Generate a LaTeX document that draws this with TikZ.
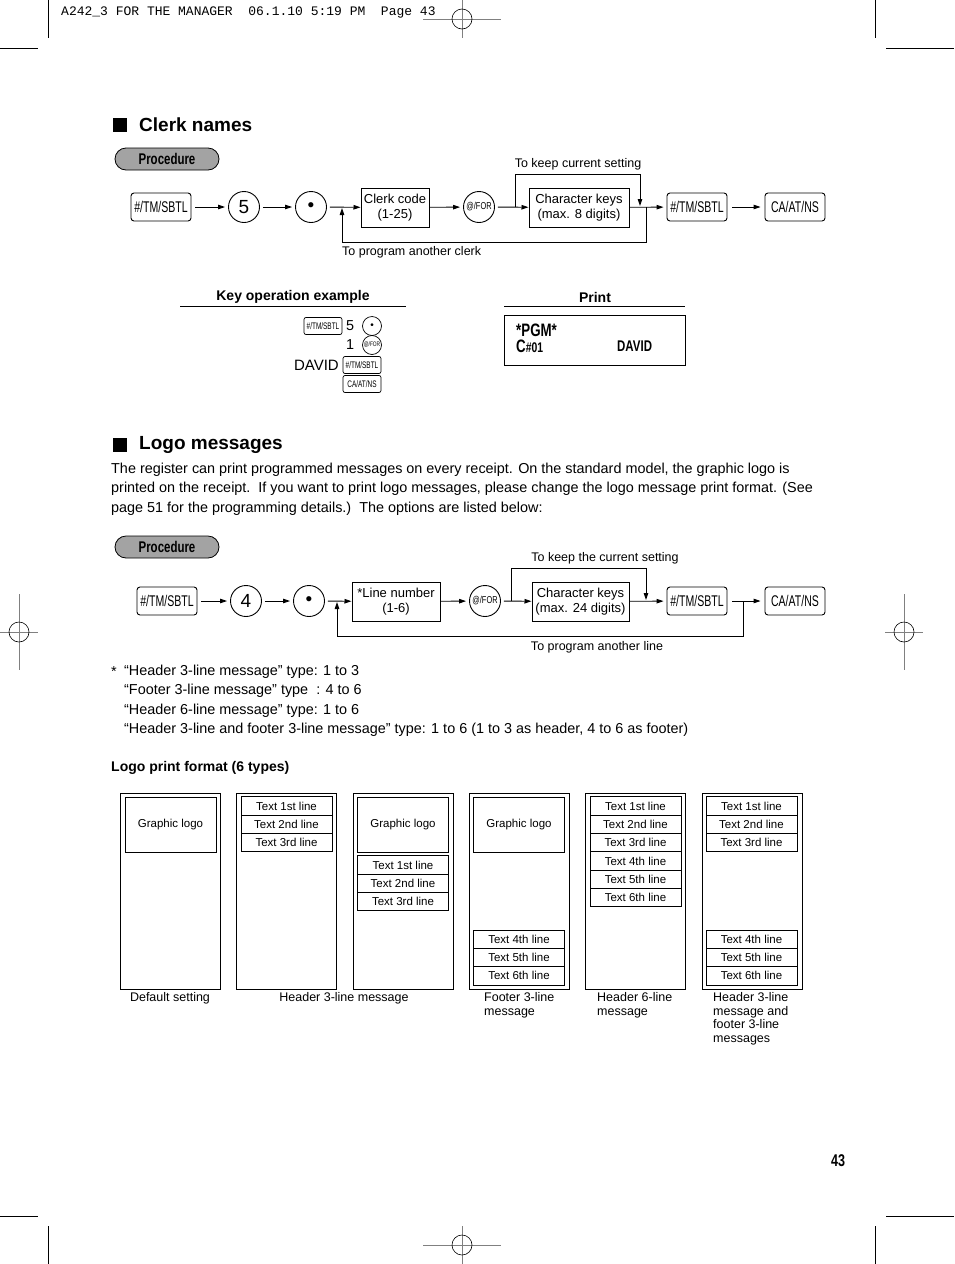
\documentclass[tikz,border=0pt]{standalone}
\usepackage{fontspec}
\setmainfont{Liberation Sans}
\setmonofont{Liberation Mono}
\newfontfamily\keyfont[FakeStretch=0.74]{Liberation Sans}
\newfontfamily\keynarrow[FakeStretch=0.68]{Liberation Sans}
\usetikzlibrary{positioning,arrows.meta}
\tikzset{
  keybox/.style={draw,rounded corners=3pt,line width=0.9pt,minimum width=60pt,minimum height=28pt,inner sep=0pt,font=\keynarrow\fontsize{15.5}{16}\selectfont},
  keysmall/.style={draw,rounded corners=2pt,line width=0.7pt,minimum width=38pt,minimum height=17pt,inner sep=0pt,font=\keynarrow\fontsize{9.5}{9.5}\selectfont},
  keyround/.style={draw,circle,line width=0.9pt,minimum size=31pt,inner sep=0pt,font=\fontsize{19}{19}\selectfont},
  roundsmall/.style={draw,circle,line width=0.7pt,minimum size=19pt,inner sep=0pt,font=\keyfont\fontsize{6.5}{6.5}\selectfont},
  codebox/.style={draw,line width=1pt,minimum height=39pt,inner sep=2pt,align=center,font=\fontsize{13}{15.5}\selectfont},
  note/.style={inner sep=0pt,font=\fontsize{12.5}{14}\selectfont},
  flow/.style={-{Triangle[length=7pt,width=4.5pt]},line width=0.9pt},
  link/.style={line width=0.9pt},
  proc/.style={draw,fill=gray!72,line width=0.8pt,rounded corners=11pt,minimum width=104pt,minimum height=22pt,inner sep=0pt,font=\keyfont\bfseries\fontsize{15.5}{15.5}\selectfont},
  heading/.style={anchor=west,inner sep=0pt,font=\bfseries\fontsize{19}{20}\selectfont},
  subhead/.style={inner sep=0pt,font=\bfseries\fontsize{14}{16}\selectfont},
  body/.style={anchor=west,inner sep=0pt,font=\fontsize{14.4}{16}\selectfont},
  panel/.style={draw,line width=0.9pt,minimum width=100pt,minimum height=196pt,inner sep=0pt},
  logobox/.style={draw,line width=0.9pt,minimum width=91pt,minimum height=55pt,inner sep=0pt,font=\fontsize{11.5}{12}\selectfont},
  lineslot/.style={draw,line width=0.9pt,minimum width=91pt,minimum height=18.3pt,inner sep=0pt,font=\fontsize{11.5}{12}\selectfont},
  caption/.style={anchor=north west,inner sep=0pt,align=left,font=\fontsize{12.5}{13.8}\selectfont},
  regline/.style={gray,line width=0.6pt},
  cropline/.style={black,line width=0.8pt},
}
\begin{document}
\begin{tikzpicture}[x=1pt,y=-1pt]
\useasboundingbox (0,0) rectangle (954,1264);
% crop and registration marks
\draw[cropline] (48,0) -- (48,38) (0,48) -- (38,48) (875,0) -- (875,38) (886,48) -- (954,48);
\draw[cropline] (48,1226) -- (48,1264) (0,1216) -- (38,1216) (875,1226) -- (875,1264) (886,1216) -- (954,1216);
\foreach \mx/\my/\hx/\vy in {462/19/39/19,462/1245/39/19,19/632/19/38,904/632/19/38} {
  \draw[regline] (\mx-\hx,\my) -- (\mx+\hx,\my) (\mx,\my-\vy) -- (\mx,\my+\vy);
  \draw[line width=0.6pt] (\mx,\my) circle[radius=10pt];
}
\node[anchor=west,inner sep=0pt,font=\ttfamily\fontsize{13}{13}\selectfont] (slug) at (61,12) {A242\_3 FOR THE MANAGER\ \ 06.1.10 5:19 PM\ \ Page 43};

% clerk names
\fill (113,118) rectangle (127,132);
\node[heading] (clerkhd) at (139,125) {Clerk names};
\node[proc] (procA) at (167,159) {Procedure};
\node[keybox] (sbtlA) at (161,207) {\#/TM/SBTL};
\node[keyround] (fiveA) at (244,207) {5};
\node[keyround] (dotA) at (311,207) {\textbullet};
\node[codebox,minimum width=68pt] (clerkA) at (395,207.5) {Clerk code\\(1-25)};
\node[keyround,font=\keyfont\fontsize{10}{10}\selectfont] (forA) at (479,207) {@/FOR};
\node[codebox,minimum width=100pt] (charA) at (579,207.5) {Character keys\\(max. 8 digits)};
\node[keybox] (sbtlB) at (697,207) {\#/TM/SBTL};
\node[keybox] (caA) at (795,207) {CA/AT/NS};
\coordinate (loopA) at (342,208);
\coordinate (splitA) at (515,207);
\coordinate (keepA) at (640,206);
\coordinate (backA) at (646,207);
\draw[flow,shorten <=4pt,shorten >=3pt] (sbtlA) -- (fiveA);
\draw[flow,shorten <=3pt,shorten >=3pt] (fiveA) -- (dotA);
\draw[flow,shorten <=3pt] (dotA) -- (clerkA);
\draw[flow,shorten >=3pt] (clerkA) -- (forA);
\draw[flow,shorten <=3pt] (forA) -- (charA);
\draw[flow,shorten >=3pt] (charA) -- (sbtlB);
\draw[flow,shorten <=5pt,shorten >=4pt] (sbtlB) -- (caA);
\draw[flow] (splitA) -- (splitA |- 0,174) -| (keepA);
\draw[flow] (backA) -- (backA |- 0,242) -| (loopA);
\node[note] (keepAlbl) at (578,164) {To keep current setting};
\node[note,anchor=west] (progAlbl) at (342,252) {To program another clerk};

% key operation example and print
\node[subhead] (keyhd) at (293,297) {Key operation example};
\draw[link] (180,306) -- (406,306);
\node[subhead] (printhd) at (595,297) {Print};
\draw[link] (504,306) -- (685,306);
\node[keysmall] (exA) at (323,326) {\#/TM/SBTL};
\node[body] (exfive) at (346,326) {5};
\node[roundsmall,font=\fontsize{10}{10}\selectfont] (exdot) at (372,326) {\textbullet};
\node[body] (exone) at (346,345) {1};
\node[roundsmall] (exfor) at (372,345) {@/FOR};
\node[body,anchor=east,font=\fontsize{15}{16}\selectfont] (exname) at (339,365) {DAVID};
\node[keysmall] (exB) at (362,365) {\#/TM/SBTL};
\node[keysmall] (exC) at (362,384) {CA/AT/NS};
\node[draw,line width=1pt,minimum width=181pt,minimum height=50pt,inner sep=0pt] (slip) at (594.5,340) {};
\node[anchor=west,inner sep=0pt,font=\keyfont\bfseries\fontsize{18}{18}\selectfont] (pgm) at (516,330) {*PGM*};
\node[anchor=west,inner sep=0pt,font=\keyfont\bfseries\fontsize{18}{18}\selectfont] (cnum) at (516,346) {C{\fontsize{14}{14}\selectfont\#01}};
\node[anchor=west,inner sep=0pt,font=\keyfont\bfseries\fontsize{15.5}{15.5}\selectfont] (dname) at (617,346) {DAVID};

% logo messages
\fill (113,438) rectangle (127,452);
\node[heading] (logohd) at (139,445) {Logo messages};
\node[body] (parA) at (111,470) {The register can print programmed messages on every receipt. On the standard model, the graphic logo is};
\node[body] (parB) at (111,489) {printed on the receipt.\ \ If you want to print logo messages, please change the logo message print format. (See};
\node[body] (parC) at (111,509) {page 51 for the programming details.)\ \ The options are listed below:};
\node[proc] (procB) at (167,547) {Procedure};
\node[keybox] (sbtlC) at (167,601) {\#/TM/SBTL};
\node[keyround] (fourB) at (246,601) {4};
\node[keyround] (dotB) at (309,601) {\textbullet};
\node[codebox,minimum width=88pt] (lineB) at (396,601.5) {*Line number\\(1-6)};
\node[keyround,font=\keyfont\fontsize{10}{10}\selectfont] (forB) at (485,601) {@/FOR};
\node[codebox,minimum width=97pt] (charB) at (580.5,601.5) {Character keys\\(max. 24 digits)};
\node[keybox] (sbtlD) at (697,601) {\#/TM/SBTL};
\node[keybox] (caB) at (795,601) {CA/AT/NS};
\coordinate (loopB) at (337,602);
\coordinate (splitB) at (511,601);
\coordinate (keepB) at (646,600);
\coordinate (backB) at (743,601);
\draw[flow,shorten <=4pt,shorten >=3pt] (sbtlC) -- (fourB);
\draw[flow,shorten <=3pt,shorten >=3pt] (fourB) -- (dotB);
\draw[flow,shorten <=3pt] (dotB) -- (lineB);
\draw[flow,shorten >=3pt] (lineB) -- (forB);
\draw[flow,shorten <=3pt] (forB) -- (charB);
\draw[flow,shorten >=3pt] (charB) -- (sbtlD);
\draw[flow,shorten <=5pt,shorten >=4pt] (sbtlD) -- (caB);
\draw[flow] (splitB) -- (splitB |- 0,568) -| (keepB);
\draw[flow] (backB) -- (backB |- 0,636) -| (loopB);
\node[note] (keepBlbl) at (605,558) {To keep the current setting};
\node[note] (progBlbl) at (597,647) {To program another line};

% footnote
\node[body] (star) at (111,672) {*};
\node[body] (fnA) at (124,672) {“Header 3-line message” type: 1 to 3};
\node[body] (fnB) at (124,691) {“Footer 3-line message” type\ \ : 4 to 6};
\node[body] (fnC) at (124,711) {“Header 6-line message” type: 1 to 6};
\node[body] (fnD) at (124,730) {“Header 3-line and footer 3-line message” type: 1 to 6 (1 to 3 as header, 4 to 6 as footer)};
\node[body,font=\bfseries\fontsize{14}{16}\selectfont] (fmthd) at (111,768) {Logo print format (6 types)};

% six print formats
\foreach \px/\pn in {170/pnA,286/pnB,403/pnC,519/pnD,635/pnE,752/pnF}
  \node[panel] (\pn) at (\px,891) {};
\node[logobox] (logoA) at (170.5,824.5) {Graphic logo};
\node[logobox] (logoC) at (403,824.5) {Graphic logo};
\node[logobox] (logoD) at (519,824.5) {Graphic logo};
\foreach \i/\t in {0/1st,1/2nd,2/3rd} {
  \node[lineslot] (txB\i) at (286.5,806+18.3*\i) {Text \t\ line};
  \node[lineslot] (txC\i) at (403,865+18.3*\i) {Text \t\ line};
  \node[lineslot] (txF\i) at (751.5,806+18.3*\i) {Text \t\ line};
}
\foreach \i/\t in {0/4th,1/5th,2/6th} {
  \node[lineslot] (ftD\i) at (519,939.2+18.3*\i) {Text \t\ line};
  \node[lineslot] (ftF\i) at (751.5,939.2+18.3*\i) {Text \t\ line};
}
\foreach \i/\t in {0/1st,1/2nd,2/3rd,3/4th,4/5th,5/6th}
  \node[lineslot] (txE\i) at (635.5,806+18.3*\i) {Text \t\ line};
\node[caption,anchor=north] (capA) at (170,992) {Default setting};
\node[caption,anchor=north] (capB) at (344,992) {Header 3-line message};
\node[caption] (capD) at (484,992) {Footer 3-line\\message};
\node[caption] (capE) at (597,992) {Header 6-line\\message};
\node[caption] (capF) at (713,992) {Header 3-line\\message and\\footer 3-line\\messages};

\node[inner sep=0pt,font=\keyfont\bfseries\fontsize{17}{17}\selectfont] (pageno) at (838,1161) {43};
\end{tikzpicture}
\end{document}
